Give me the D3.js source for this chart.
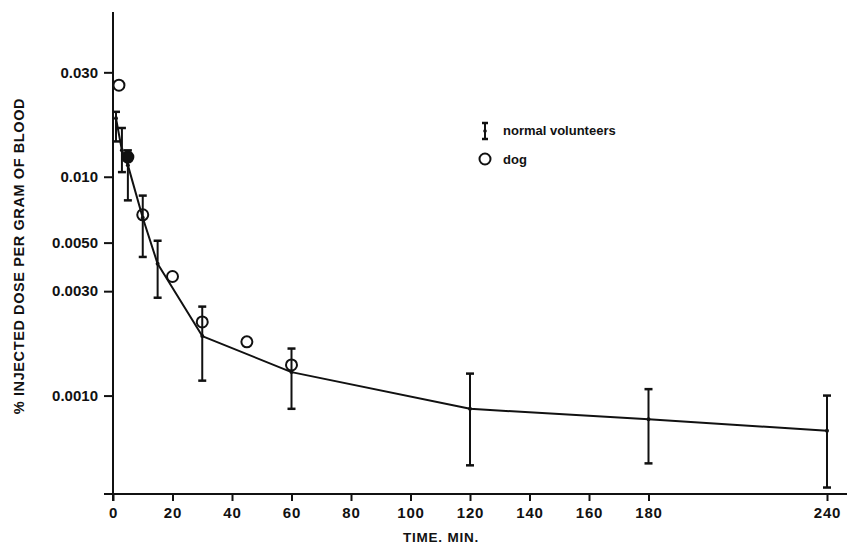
<!DOCTYPE html>
<html>
<head>
<meta charset="utf-8">
<script src="https://cdn.jsdelivr.net/npm/d3@7/dist/d3.min.js"></script>
<style>
  html, body { margin: 0; padding: 0; background: #fff; }
  svg text { font-family: "Liberation Sans", Arial, sans-serif; font-weight: bold; fill: #111; }
</style>
</head>
<body>
<div id="chart"></div>
<script>
// ── Data ────────────────────────────────────────────────────────────────────
// normal volunteers: mean with error bar (low / high)
const volTime = [1, 3, 5, 10, 15, 30, 60, 120, 180, 240];
const volMean = [0.0185, 0.0132, 0.0113, 0.0065, 0.0040, 0.00187, 0.00128, 0.00087, 0.00078, 0.00069];
const volLow  = [0.0145, 0.0105, 0.0078, 0.0043, 0.0028, 0.00117, 0.00087, 0.00048, 0.00049, 0.00038];
const volHigh = [0.0198, 0.0167, 0.0132, 0.0082, 0.0051, 0.00255, 0.00164, 0.00126, 0.00107, 0.00100];

// dog
const dogTime  = [2, 5, 10, 20, 30, 45, 60];
const dogValue = [0.0262, 0.0123, 0.0067, 0.0035, 0.00217, 0.00176, 0.00138];
const dogFilled = [false, true, false, false, false, false, false];

const xTicks = [0, 20, 40, 60, 80, 100, 120, 140, 160, 180, 240];
const yTicks = [0.03, 0.01, 0.005, 0.003, 0.001];
const yTickLabels = ['0.030', '0.010', '0.0050', '0.0030', '0.0010'];

const W = 847, H = 546;

const svg = d3.select('#chart').append('svg')
  .attr('width', W).attr('height', H);

const x = d3.scaleLinear().domain([0, 240]).range([113, 827]);
const y = d3.scaleLog().domain([0.000355, 0.0566]).range([494, 12]);

const ink = '#111';

// ── Axes ────────────────────────────────────────────────────────────────────
const xAxis = svg.append('g')
  .attr('transform', `translate(0,${y.range()[0]})`)
  .call(d3.axisBottom(x).tickValues(xTicks).tickSize(7).tickSizeOuter(0).tickFormat(d3.format('d')));
xAxis.select('.domain').remove();
xAxis.append('line')
  .attr('x1', 104).attr('x2', W).attr('y1', 0).attr('y2', 0)
  .attr('stroke', ink).attr('stroke-width', 2);
xAxis.selectAll('.tick line').attr('stroke', ink).attr('stroke-width', 2);
xAxis.selectAll('.tick text')
  .attr('y', 13).style('font-size', '15px').style('letter-spacing', '0.8px').attr('fill', ink);

const yAxis = svg.append('g')
  .attr('transform', `translate(${x(0)},0)`)
  .call(d3.axisLeft(y).tickValues(yTicks).tickSize(9).tickSizeOuter(0)
    .tickFormat((d, i) => yTickLabels[i]));
yAxis.select('.domain').remove();
yAxis.append('line')
  .attr('x1', 0).attr('x2', 0).attr('y1', 12).attr('y2', 501)
  .attr('stroke', ink).attr('stroke-width', 2);
yAxis.selectAll('.tick line').attr('stroke', ink).attr('stroke-width', 2);
yAxis.selectAll('.tick text')
  .attr('x', -15).style('font-size', '15px').attr('fill', ink);

// axis titles
svg.append('text')
  .attr('x', 441).attr('y', 542)
  .attr('text-anchor', 'middle')
  .style('font-size', '13.5px')
  .style('letter-spacing', '0.8px')
  .text('TIME. MIN.');

svg.append('text')
  .attr('transform', `translate(24,256) rotate(-90)`)
  .attr('text-anchor', 'middle')
  .style('font-size', '14.5px')
  .style('letter-spacing', '0.6px')
  .text('% INJECTED DOSE PER GRAM OF BLOOD');

// ── Volunteers line + error bars ────────────────────────────────────────────
const vol = volTime.map((t, i) => ({ t, m: volMean[i], lo: volLow[i], hi: volHigh[i] }));

svg.append('path')
  .datum(vol)
  .attr('fill', 'none')
  .attr('stroke', ink)
  .attr('stroke-width', 2)
  .attr('stroke-linejoin', 'round')
  .attr('d', d3.line().x(d => x(d.t)).y(d => y(d.m)));

const bars = svg.append('g').selectAll('g').data(vol).join('g');
bars.append('line')
  .attr('x1', d => x(d.t)).attr('x2', d => x(d.t))
  .attr('y1', d => y(d.hi)).attr('y2', d => y(d.lo))
  .attr('stroke', ink).attr('stroke-width', 2);
bars.selectAll('.cap')
  .data(d => [[d.t, d.hi], [d.t, d.lo]])
  .join('line')
  .attr('class', 'cap')
  .attr('x1', d => x(d[0]) - 4).attr('x2', d => x(d[0]) + 4)
  .attr('y1', d => y(d[1])).attr('y2', d => y(d[1]))
  .attr('stroke', ink).attr('stroke-width', 2.5);
bars.append('circle')
  .attr('cx', d => x(d.t)).attr('cy', d => y(d.m)).attr('r', 2)
  .attr('fill', ink);

// ── Dog points ──────────────────────────────────────────────────────────────
svg.append('g').selectAll('circle')
  .data(dogTime.map((t, i) => ({ t, v: dogValue[i], f: dogFilled[i] })))
  .join('circle')
  .attr('cx', d => x(d.t)).attr('cy', d => y(d.v))
  .attr('r', 5.5)
  .attr('fill', d => d.f ? ink : '#fff')
  .attr('fill-opacity', d => d.f ? 1 : 0)
  .attr('stroke', ink).attr('stroke-width', 2);

// ── Legend ──────────────────────────────────────────────────────────────────
const lg = svg.append('g');
lg.append('line').attr('x1', 485).attr('x2', 485).attr('y1', 123).attr('y2', 139)
  .attr('stroke', ink).attr('stroke-width', 2);
[123, 139].forEach(v => lg.append('line')
  .attr('x1', 482).attr('x2', 488).attr('y1', v).attr('y2', v)
  .attr('stroke', ink).attr('stroke-width', 2.5));
lg.append('circle').attr('cx', 485).attr('cy', 131).attr('r', 1.8).attr('fill', ink);
lg.append('text').attr('x', 503).attr('y', 135).style('font-size', '13px').text('normal volunteers');

lg.append('circle').attr('cx', 485).attr('cy', 159).attr('r', 5.5)
  .attr('fill', 'none').attr('stroke', ink).attr('stroke-width', 2);
lg.append('text').attr('x', 503).attr('y', 164).style('font-size', '13px').text('dog');
</script>
</body>
</html>
